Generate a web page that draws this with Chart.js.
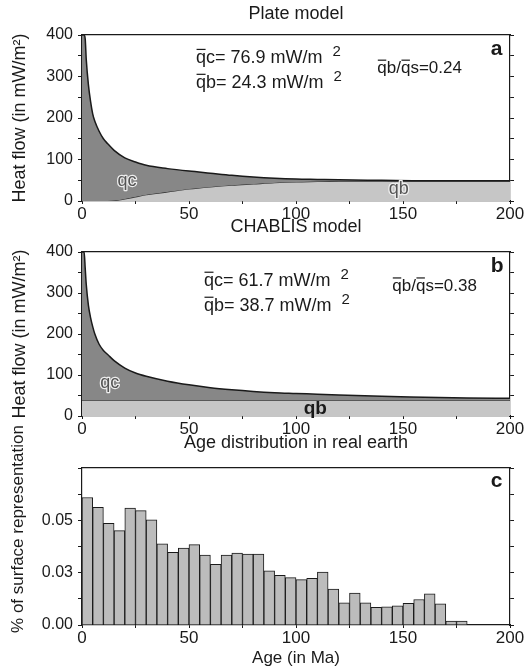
<!DOCTYPE html>
<html>
<head>
<meta charset="utf-8">
<script src="https://cdn.jsdelivr.net/npm/chart.js@4.4.1/dist/chart.umd.min.js"></script>
<style>
  body { margin: 0; background: #fff; width: 530px; height: 672px; position: relative; overflow: hidden; }
  canvas { position: absolute; left: 0; }
</style>
</head>
<body>
<canvas id="plate" width="530" height="230" style="top:0px"></canvas>
<canvas id="chablis" width="530" height="230" style="top:214px"></canvas>
<canvas id="hist" width="530" height="252" style="top:420px"></canvas>
<script>
// heat flow vs age (Ma)
var ages = [0, 0.5, 1, 1.5, 2, 3, 4, 5, 6, 8, 10, 12, 15, 20, 25, 30, 40, 50, 60, 70, 80, 90, 100, 110, 120, 140, 160, 180, 200];
var plateQs = [400, 400, 400, 390, 340, 280, 240, 210, 192, 168, 150, 138, 122, 104, 94, 86, 78, 72, 67, 62, 58, 55, 53, 52, 51, 50, 49, 49, 49];
var plateQb = [0, 0, 0, 0, 0, 0, 0, 0, 0, 0, 0, 0, 1, 5, 10, 15, 22, 29, 34, 38, 41, 44, 46, 47, 48, 48, 48, 48, 48];
var chablisQs = [400, 400, 400, 360, 320, 270, 240, 218, 200, 175, 160, 150, 135, 117, 105, 97, 85, 76, 69, 64, 60, 57, 55, 53, 51, 48, 46, 44, 43];
var chablisQbAges = [0, 200];
var chablisQb = [38.7, 38.7];

// histogram, 5 Ma bins
var binStarts = [0, 5, 10, 15, 20, 25, 30, 35, 40, 45, 50, 55, 60, 65, 70, 75, 80, 85, 90, 95,
                 100, 105, 110, 115, 120, 125, 130, 135, 140, 145, 150, 155, 160, 165, 170, 175];
var binShares = [0.0609, 0.0562, 0.0486, 0.0451, 0.0559, 0.0546, 0.0502, 0.0388, 0.0347, 0.0367,
                 0.0384, 0.0334, 0.0290, 0.0334, 0.0343, 0.0339, 0.0339, 0.0259, 0.0237, 0.0226,
                 0.0217, 0.0223, 0.0253, 0.0171, 0.0106, 0.0153, 0.0106, 0.0084, 0.0087, 0.0092,
                 0.0103, 0.0122, 0.0149, 0.0101, 0.0019, 0.0019];

var ageTicks = [0, 50, 100, 150, 200];
var heatTicks = [0, 100, 200, 300, 400];
var shareTicks = [0, 0.025, 0.05];
var shareTickLabels = ['0.00', '0.03', '0.05'];

var FONT = '"Liberation Sans", Arial, Helvetica, sans-serif';
var INK = '#1a1a1a';
var DARK = '#878787';
var LIGHT = '#c6c6c6';

function rich(ctx, x, y, parts, size) {
  var cx = x;
  parts.forEach(function (p) {
    var fs = p.sup ? Math.round(size * 0.85) : size;
    ctx.font = fs + 'px ' + FONT;
    var dy = p.sup ? -Math.round(size * 0.38) : 0;
    ctx.fillText(p.t, cx, y + dy);
    var w = ctx.measureText(p.t).width;
    if (p.bar) ctx.fillRect(cx + 0.5, y - size * 0.8, w - 1, 1.2);
    cx += w;
  });
}

function notes(items) {
  return {
    id: 'notes',
    afterDraw: function (chart) {
      var ctx = chart.ctx, sx = chart.scales.x, sy = chart.scales.y;
      items.forEach(function (it) {
        var x = it.at ? sx.getPixelForValue(it.at[0]) : it.px[0];
        var y = it.at ? sy.getPixelForValue(it.at[1]) : it.px[1];
        ctx.save();
        ctx.fillStyle = it.color || INK;
        ctx.textAlign = it.align || 'left';
        ctx.textBaseline = it.baseline || 'alphabetic';
        if (it.rotate) {
          ctx.translate(x, y);
          ctx.rotate(-Math.PI / 2);
          x = 0; y = 0;
        }
        if (it.parts) {
          rich(ctx, x, y, it.parts, it.size);
        } else {
          ctx.font = (it.bold ? 'bold ' : '') + it.size + 'px ' + FONT;
          if (it.halo) {
            ctx.strokeStyle = '#eee';
            ctx.lineWidth = 2.5;
            ctx.lineJoin = 'round';
            ctx.strokeText(it.text, x, y);
          }
          ctx.fillText(it.text, x, y);
        }
        ctx.restore();
      });
    }
  };
}

function frame(top, bottom, yMax, yStep, yLabel, yFont) {
  return {
    x: {
      type: 'linear', position: 'bottom', min: 0, max: 200, offset: false,
      ticks: { stepSize: 25, autoSkip: false, maxRotation: 0, padding: 0, color: INK,
               font: { family: FONT, size: 17 },
               callback: function (v) { return ageTicks.indexOf(v) >= 0 ? String(v) : ''; } },
      grid: { drawOnChartArea: false, offset: false, tickLength: 3, color: INK },
      border: { color: INK, width: 1.2 },
      afterFit: function (s) { s.height = bottom; }
    },
    xTop: {
      type: 'linear', position: 'top', min: 0, max: 200,
      ticks: { display: false },
      grid: { drawOnChartArea: false, drawTicks: false },
      border: { color: INK, width: 1.2 },
      afterFit: function (s) { s.height = top; }
    },
    y: {
      type: 'linear', position: 'left', min: 0, max: yMax,
      ticks: { stepSize: yStep, autoSkip: false, padding: 5, color: INK,
               font: { family: FONT, size: yFont }, callback: yLabel },
      grid: { drawOnChartArea: false, tickLength: 4, color: INK },
      border: { color: INK, width: 1.2 },
      afterFit: function (s) { s.width = 82; }
    },
    yRight: {
      type: 'linear', position: 'right', min: 0, max: yMax,
      ticks: { display: false, stepSize: yStep },
      grid: { drawOnChartArea: false, tickLength: 4, color: INK },
      border: { color: INK, width: 1.2 },
      afterFit: function (s) { s.width = 20; }
    }
  };
}

function heatLabel(v) { return heatTicks.indexOf(v) >= 0 ? String(v) : ''; }

function pts(xs, ys) {
  return xs.map(function (a, i) { return { x: a, y: ys[i] }; });
}

var base = {
  responsive: false,
  animation: false,
  events: [],
  plugins: { legend: { display: false }, tooltip: { enabled: false }, title: { display: false } }
};

// a: plate model
new Chart(document.getElementById('plate'), {
  type: 'line',
  data: {
    datasets: [
      { label: 'qs', data: pts(ages, plateQs), borderColor: INK, borderWidth: 1.5, pointRadius: 0,
        cubicInterpolationMode: 'monotone', fill: '+1', backgroundColor: DARK },
      { label: 'qb', data: pts(ages, plateQb), borderColor: '#333', borderWidth: 1.2, pointRadius: 0,
        cubicInterpolationMode: 'monotone', fill: 'origin', backgroundColor: LIGHT }
    ]
  },
  options: Object.assign({}, base, { scales: frame(35, 29, 400, 50, heatLabel, 16) }),
  plugins: [notes([
    { px: [296, 14], text: 'Plate model', size: 18, align: 'center', baseline: 'middle' },
    { px: [20, 118], text: 'Heat flow (in mW/m²)', size: 18, align: 'center', baseline: 'middle', rotate: true },
    { at: [53.3, 332], size: 18, parts: [{ t: 'q', bar: true }, { t: 'c= 76.9 mW/m  ' }, { t: '2', sup: true }] },
    { at: [53.3, 272], size: 18, parts: [{ t: 'q', bar: true }, { t: 'b= 24.3 mW/m  ' }, { t: '2', sup: true }] },
    { at: [138, 308], size: 17, parts: [{ t: 'q', bar: true }, { t: 'b/' }, { t: 'q', bar: true }, { t: 's=0.24' }] },
    { at: [191, 352], text: 'a', size: 21, bold: true },
    { at: [21, 48], text: 'qc', size: 18, align: 'center', baseline: 'middle', halo: true, color: '#555' },
    { at: [148, 30], text: 'qb', size: 18, align: 'center', baseline: 'middle', halo: true, color: '#555' }
  ])]
});

// b: CHABLIS model
new Chart(document.getElementById('chablis'), {
  type: 'line',
  data: {
    datasets: [
      { label: 'qs', data: pts(ages, chablisQs), borderColor: INK, borderWidth: 1.5, pointRadius: 0,
        cubicInterpolationMode: 'monotone', fill: { value: chablisQb[0] }, backgroundColor: DARK },
      { label: 'qb', data: pts(chablisQbAges, chablisQb), borderColor: INK, borderWidth: 1.2, pointRadius: 0,
        fill: 'origin', backgroundColor: LIGHT }
    ]
  },
  options: Object.assign({}, base, { scales: frame(38, 28, 400, 50, heatLabel, 16) }),
  plugins: [notes([
    { px: [296, 13], text: 'CHABLIS model', size: 18, align: 'center', baseline: 'middle' },
    { px: [20, 120], text: 'Heat flow (in mW/m²)', size: 18, align: 'center', baseline: 'middle', rotate: true },
    { at: [57, 317], size: 18, parts: [{ t: 'q', bar: true }, { t: 'c= 61.7 mW/m  ' }, { t: '2', sup: true }] },
    { at: [57, 256], size: 18, parts: [{ t: 'q', bar: true }, { t: 'b= 38.7 mW/m  ' }, { t: '2', sup: true }] },
    { at: [145, 305], size: 17, parts: [{ t: 'q', bar: true }, { t: 'b/' }, { t: 'q', bar: true }, { t: 's=0.38' }] },
    { at: [191, 351], text: 'b', size: 21, bold: true },
    { at: [13, 80], text: 'qc', size: 18, align: 'center', baseline: 'middle', halo: true, color: '#555' },
    { at: [109, 17], text: 'qb', size: 19, align: 'center', baseline: 'middle', bold: true }
  ])]
});

// c: age distribution histogram
function shareLabel(v) {
  for (var i = 0; i < shareTicks.length; i++) {
    if (Math.abs(v - shareTicks[i]) < 1e-9) return shareTickLabels[i];
  }
  return '';
}

new Chart(document.getElementById('hist'), {
  type: 'bar',
  data: {
    datasets: [{
      label: 'share',
      data: binStarts.map(function (b, i) { return { x: b + 2.5, y: binShares[i] }; }),
      backgroundColor: '#bcbcbc', borderColor: INK, borderWidth: 1,
      barPercentage: 1, categoryPercentage: 1
    }]
  },
  options: Object.assign({}, base, { scales: frame(48, 47, 0.075, 0.0125, shareLabel, 16) }),
  plugins: [notes([
    { px: [296, 23], text: 'Age distribution in real earth', size: 18, align: 'center', baseline: 'middle' },
    { px: [18, 109], text: '% of surface representation', size: 17, align: 'center', baseline: 'middle', rotate: true },
    { px: [296, 238], text: 'Age (in Ma)', size: 17, align: 'center', baseline: 'middle' },
    { at: [191, 0.066], text: 'c', size: 21, bold: true }
  ])]
});
</script>
</body>
</html>
